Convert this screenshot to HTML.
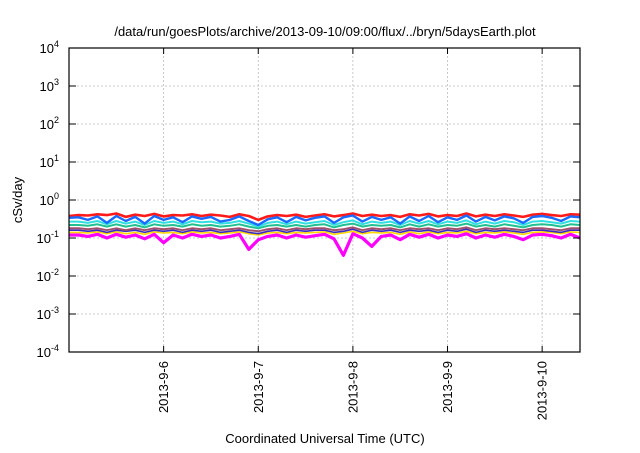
<!DOCTYPE html>
<html><head><meta charset="utf-8"><style>
body{margin:0;background:#fff;}
svg text{font-family:"Liberation Sans",sans-serif;fill:#000;}
</style></head><body>
<svg id="chart" width="640" height="448" viewBox="0 0 640 448">
<text x="325" y="36" font-size="13" text-anchor="middle">/data/run/goesPlots/archive/2013-09-10/09:00/flux/../bryn/5daysEarth.plot</text>
<g id="grid"></g>
<g id="series" clip-path="url(#clip)"></g>
<clipPath id="clip"><rect x="69" y="48" width="511" height="304"/></clipPath>
<rect x="69" y="48" width="511" height="304" fill="none" stroke="#000" stroke-width="1.2"/>
<g id="axes"></g>
<text transform="translate(22,200) rotate(-90)" font-size="13" text-anchor="middle">cSv/day</text>
<text x="325" y="443" font-size="13" text-anchor="middle">Coordinated Universal Time (UTC)</text>
</svg>
<script>
const times=[0,0.1,0.2,0.3,0.4,0.5,0.6,0.7,0.8,0.9,1.0,1.1,1.2,1.3,1.4,1.5,1.6,1.7,1.8,1.9,2.0,2.1,2.2,2.3,2.4,2.5,2.6,2.7,2.8,2.9,3.0,3.1,3.2,3.3,3.4,3.5,3.6,3.7,3.8,3.9,4.0,4.1,4.2,4.3,4.4,4.5,4.6,4.7,4.8,4.9,5.0,5.1,5.2,5.3,5.4];
const redVals=[0.38,0.40,0.39,0.42,0.40,0.44,0.36,0.41,0.38,0.43,0.37,0.40,0.39,0.42,0.38,0.41,0.39,0.36,0.42,0.38,0.30,0.37,0.40,0.38,0.41,0.36,0.39,0.42,0.37,0.40,0.44,0.38,0.41,0.38,0.40,0.36,0.42,0.39,0.43,0.37,0.40,0.38,0.44,0.37,0.41,0.38,0.42,0.39,0.36,0.41,0.43,0.40,0.38,0.42,0.41];
const blueVals=[0.34,0.35,0.30,0.37,0.25,0.38,0.28,0.36,0.24,0.38,0.30,0.35,0.26,0.37,0.32,0.36,0.27,0.30,0.37,0.28,0.22,0.31,0.35,0.26,0.36,0.29,0.34,0.37,0.25,0.35,0.39,0.27,0.36,0.30,0.35,0.24,0.37,0.28,0.38,0.26,0.35,0.30,0.39,0.27,0.36,0.29,0.37,0.33,0.25,0.36,0.38,0.34,0.28,0.37,0.35];
const cyanVals=[0.27,0.27,0.25,0.28,0.23,0.28,0.24,0.27,0.22,0.28,0.25,0.27,0.23,0.28,0.26,0.27,0.24,0.25,0.28,0.24,0.20,0.25,0.27,0.23,0.27,0.24,0.26,0.28,0.22,0.26,0.29,0.23,0.27,0.25,0.27,0.22,0.28,0.24,0.28,0.23,0.27,0.25,0.29,0.23,0.27,0.24,0.28,0.26,0.22,0.27,0.28,0.26,0.24,0.28,0.27];
const greenVals=[0.22,0.22,0.21,0.23,0.20,0.23,0.20,0.22,0.19,0.23,0.21,0.22,0.20,0.23,0.21,0.22,0.20,0.21,0.23,0.20,0.18,0.21,0.22,0.20,0.22,0.20,0.22,0.23,0.19,0.22,0.24,0.20,0.22,0.21,0.22,0.19,0.23,0.20,0.23,0.20,0.22,0.21,0.24,0.20,0.22,0.20,0.23,0.21,0.19,0.22,0.23,0.22,0.20,0.23,0.22];
const brownVals=[0.18,0.18,0.17,0.18,0.16,0.18,0.16,0.18,0.16,0.18,0.17,0.18,0.16,0.18,0.17,0.18,0.16,0.17,0.18,0.16,0.15,0.17,0.18,0.16,0.18,0.17,0.18,0.18,0.16,0.17,0.19,0.16,0.18,0.17,0.18,0.16,0.18,0.17,0.18,0.16,0.18,0.17,0.19,0.16,0.18,0.17,0.18,0.17,0.16,0.18,0.18,0.17,0.16,0.18,0.18];
const purpleVals=[0.16,0.16,0.15,0.16,0.14,0.16,0.15,0.16,0.14,0.16,0.15,0.16,0.14,0.16,0.15,0.16,0.14,0.15,0.16,0.14,0.13,0.15,0.16,0.14,0.16,0.15,0.16,0.16,0.14,0.15,0.17,0.14,0.16,0.15,0.16,0.14,0.16,0.15,0.16,0.14,0.16,0.15,0.17,0.14,0.16,0.15,0.16,0.15,0.14,0.16,0.16,0.15,0.14,0.16,0.16];
const yellowVals=[0.14,0.14,0.135,0.145,0.13,0.145,0.13,0.14,0.125,0.145,0.135,0.14,0.13,0.145,0.135,0.14,0.13,0.135,0.145,0.13,0.12,0.135,0.14,0.13,0.14,0.135,0.14,0.145,0.125,0.135,0.15,0.13,0.14,0.135,0.14,0.125,0.145,0.13,0.145,0.13,0.14,0.135,0.15,0.13,0.14,0.135,0.145,0.135,0.125,0.14,0.145,0.14,0.13,0.145,0.14];
const magentaVals=[0.12,0.12,0.11,0.125,0.10,0.125,0.105,0.12,0.095,0.125,0.075,0.12,0.10,0.125,0.11,0.12,0.10,0.11,0.125,0.05,0.09,0.11,0.12,0.10,0.12,0.105,0.115,0.125,0.095,0.035,0.13,0.10,0.06,0.11,0.12,0.09,0.125,0.105,0.125,0.10,0.12,0.11,0.13,0.10,0.12,0.105,0.125,0.11,0.09,0.12,0.125,0.115,0.10,0.125,0.10];
const yTickExps=[-4,-3,-2,-1,0,1,2,3,4];
const xTickDays=[1,2,3,4,5];
const xTickLabels=["2013-9-6","2013-9-7","2013-9-8","2013-9-9","2013-9-10"];

const NS="http://www.w3.org/2000/svg";
const X0=69,X1=580,Y0=48,Y1=352,T0=0.0,T1=5.4;
function xs(t){return X0+(t-T0)/(T1-T0)*(X1-X0);}
function ys(v){return Y1-(Math.log10(v)+4)/8*(Y1-Y0);}
function mk(tag,attrs,parent){const e=document.createElementNS(NS,tag);for(const k in attrs)e.setAttribute(k,attrs[k]);parent.appendChild(e);return e;}
const grid=document.getElementById('grid'),axes=document.getElementById('axes'),ser=document.getElementById('series');
yTickExps.forEach(p=>{
  const y=ys(Math.pow(10,p));
  if(p>-4&&p<4){const g=mk('line',{x1:X0,x2:X1,y1:y,y2:y,stroke:'#bbb','stroke-dasharray':'2,2','stroke-width':0.8},grid);
  
  }
  mk('line',{x1:X0,x2:X0+7,y1:y,y2:y,stroke:'#000'},axes);
  mk('line',{x1:X1-7,x2:X1,y1:y,y2:y,stroke:'#000'},axes);
  const t=mk('text',{x:59,y:y+5,'font-size':13,'text-anchor':'end'},axes);
  
  
  t.innerHTML='10<tspan dy="-6" font-size="9">'+p+'</tspan>';
});
xTickDays.forEach((d,i)=>{
  const x=xs(d);
  const g=mk('line',{x1:x,x2:x,y1:Y0,y2:Y1,stroke:'#bbb','stroke-dasharray':'2,2','stroke-width':0.8},grid);
  
  
  mk('line',{x1:x,x2:x,y1:Y1-6,y2:Y1,stroke:'#000'},axes);
  mk('line',{x1:x,x2:x,y1:Y0,y2:Y0+6,stroke:'#000'},axes);
  const t=mk('text',{transform:'translate('+(x+4.5)+',361) rotate(-90)','font-size':13,'text-anchor':'end'},axes);
  
  
  t.textContent=xTickLabels[i];
});
const seriesList=[[magentaVals,'#ff00ff',3.2,'magenta'],[yellowVals,'#ffd700',1.6,'yellow'],[purpleVals,'#3a2cc0',1.6,'purple'],[brownVals,'#a0506a',2,'brown'],[greenVals,'#20c090',2,'green'],[cyanVals,'#30e0e0',2,'cyan'],[redVals,'#ff1a1a',2.6,'red'],[blueVals,'#1a6aff',2.4,'blue']];
seriesList.forEach(s=>{
  const pts=times.map((t,i)=>xs(t).toFixed(1)+','+ys(s[0][i]).toFixed(1)).join(' ');
  const pl=mk('polyline',{points:pts,fill:'none',stroke:s[1],'stroke-width':s[2],'stroke-linejoin':'round'},ser);
  
  
});
</script>
</body></html>
